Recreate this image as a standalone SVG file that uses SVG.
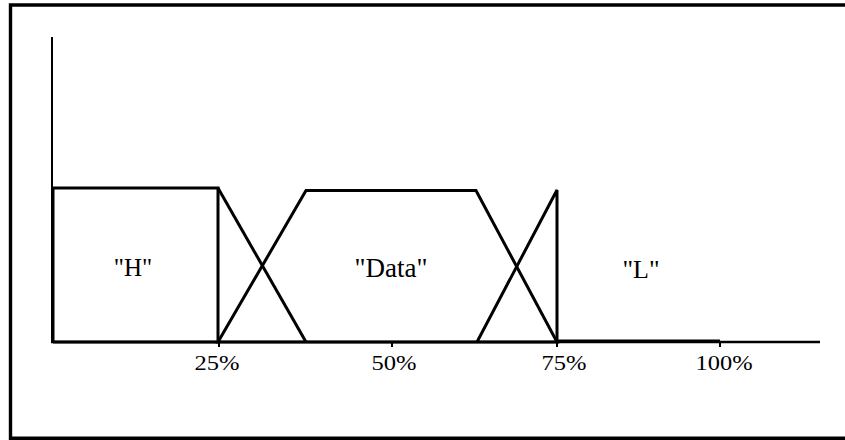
<svg xmlns="http://www.w3.org/2000/svg" width="845" height="440" viewBox="0 0 845 440">
<style>
.ln{fill:none;stroke:#000;stroke-width:3;stroke-linejoin:miter;stroke-linecap:butt}
.thin{fill:none;stroke:#000;stroke-width:2}
.lbl{font-family:"Liberation Serif","Times New Roman",serif;font-size:25px;fill:#000;text-anchor:middle}
.pct{font-family:"Liberation Serif","Times New Roman",serif;font-size:20px;fill:#000;text-anchor:middle}
</style>
<rect width="845" height="440" fill="#fff"/>
<g id="frame">
<path d="M850 5 H10.5 V438.3 H850" fill="none" stroke="#000" stroke-width="3.4"/>
</g>
<g id="axes">
<line class="thin" x1="52" y1="37" x2="52" y2="342"/>
<line x1="51" y1="342" x2="820" y2="342" stroke="#000" stroke-width="2.6"/>
<path class="thin" d="M219 342 V347 M392 342 V347 M557 342 V347 M720 342 V347"/>
<text class="pct" x="217" y="370" textLength="45" lengthAdjust="spacingAndGlyphs">25%</text>
<text class="pct" x="394" y="370" textLength="45" lengthAdjust="spacingAndGlyphs">50%</text>
<text class="pct" x="564" y="370" textLength="45" lengthAdjust="spacingAndGlyphs">75%</text>
<text class="pct" x="724" y="370" textLength="57" lengthAdjust="spacingAndGlyphs">100%</text>
</g>
<g id="H">
<path class="ln" d="M53 342 V188 H218 V342 H53"/>
<line class="ln" x1="218" y1="188" x2="306" y2="342"/>
<text class="lbl" x="133" y="276">"H"</text>
</g>
<g id="Data">
<path class="ln" d="M218 342 L306 190.5 H476 L557 342 Z"/>
<text class="lbl" x="391" y="277" style="font-size:27px">"Data"</text>
</g>
<g id="L">
<path class="ln" d="M477 342 L557 190 V342"/>
<line x1="557" y1="340.5" x2="720" y2="340.5" stroke="#000" stroke-width="2"/>
<text class="lbl" x="641" y="278" style="font-size:26px">"L"</text>
</g>
</svg>
